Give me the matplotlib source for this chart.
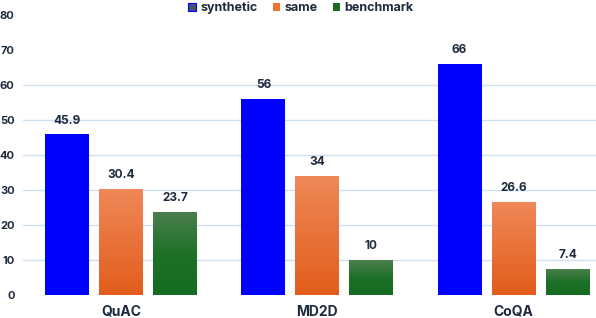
import matplotlib
matplotlib.use("Agg")
import matplotlib.pyplot as plt
import numpy as np
from matplotlib.colors import LinearSegmentedColormap
from matplotlib.patches import Patch

CATS = ["QuAC", "MD2D", "CoQA"]
SERIES = ["synthetic", "same", "benchmark"]
SYNTHETIC = [45.9, 56, 66]
SAME = [30.4, 34, 26.6]
BENCHMARK = [23.7, 10, 7.4]
Y_TICKS = [0, 10, 20, 30, 40, 50, 60, 70, 80]
GRID_TICKS = [10, 20, 30, 40, 50, 60]

TXT = "#1e2a3e"
BLUE = "#0000ff"
ORANGE_TOP, ORANGE_BOT = "#ef8858", "#e25d1b"
GREEN_TOP, GREEN_MID, GREEN_BOT = "#4b7e4c", "#1f7128", "#136c21"

plt.rcParams["font.family"] = ["Inter", "DejaVu Sans"]

fig = plt.figure(figsize=(5.96, 3.18), dpi=100)
ax = fig.add_axes([23 / 596, 1 - 295 / 318, 1 - 23 / 596, (295 - 15) / 318])

x = np.arange(len(CATS))
w, step = 0.224, 0.275


def grad_bars(xs, vals, colors):
    cmap = LinearSegmentedColormap.from_list("g", colors)
    bars = ax.bar(xs, vals, width=w, color="none", zorder=2)
    for b in bars:
        x0, y0 = b.get_x(), b.get_y()
        x1, y1 = x0 + b.get_width(), y0 + b.get_height()
        grad = np.linspace(0, 1, 100).reshape(-1, 1)
        im = ax.imshow(grad, cmap=cmap, aspect="auto", origin="lower",
                       extent=(x0, x1, y0, y1), zorder=2)
        im.set_clip_path(b)
    return bars


b1 = ax.bar(x - step, SYNTHETIC, width=w, color=BLUE, zorder=2)
b2 = grad_bars(x, SAME, [ORANGE_BOT, ORANGE_TOP])
b3 = grad_bars(x + step, BENCHMARK, [GREEN_BOT, GREEN_MID, GREEN_TOP])

for bars, vals in [(b1, SYNTHETIC), (b2, SAME), (b3, BENCHMARK)]:
    for b, v in zip(bars, vals):
        ax.text(b.get_x() + b.get_width() / 2, v + 2.2, f"{v:g}", ha="center", va="bottom",
                fontsize=8.5, fontweight="bold", color=TXT, zorder=3)

for g in GRID_TICKS:
    ax.axhline(g, color="#cfe0f1", lw=1, zorder=1)

ax.set_xlim(-0.5, 2.42)
ax.set_ylim(0, 80)
ax.set_yticks(Y_TICKS)
ax.set_yticklabels([str(t) for t in Y_TICKS], fontsize=8, fontweight="bold", color=TXT)
ax.tick_params(length=0, axis="y", pad=6)
ax.set_xticks(x)
ax.set_xticklabels(CATS, fontsize=10, fontweight="bold", color=TXT)
ax.tick_params(length=0, axis="x", pad=7)
for s in ax.spines.values():
    s.set_visible(False)

handles = [Patch(facecolor="#475569", edgecolor=BLUE, lw=0.8),
           Patch(facecolor="#f07030", edgecolor="none"),
           Patch(facecolor="#1a6b25", edgecolor="none")]
leg = fig.legend(handles, SERIES, loc="upper center", bbox_to_anchor=(0.505, 1.03), ncol=3,
                 frameon=False, fontsize=9, handlelength=0.6, handleheight=0.6,
                 handletextpad=0.35, columnspacing=1.2)
for t in leg.get_texts():
    t.set_fontweight("bold")
    t.set_color(TXT)

fig.savefig("out.png", dpi=100)
